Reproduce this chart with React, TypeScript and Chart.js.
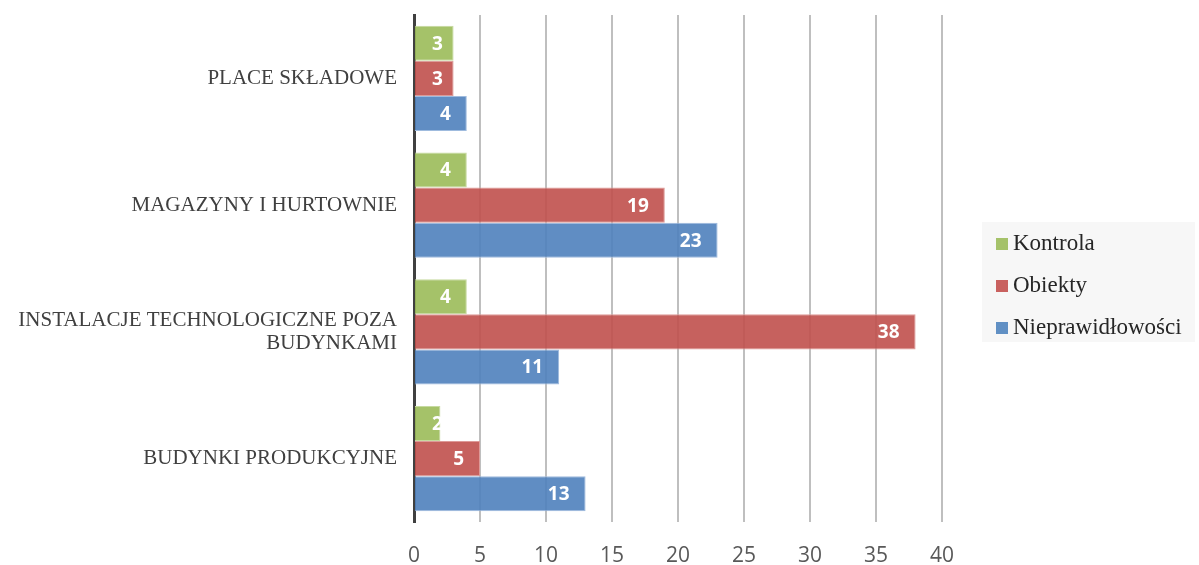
import { useEffect, useRef } from "react";
import { Chart, registerables } from "chart.js";

Chart.register(...registerables);

const categories: (string | string[])[] = [
  "PLACE SKŁADOWE",
  "MAGAZYNY I HURTOWNIE",
  ["INSTALACJE TECHNOLOGICZNE POZA", "BUDYNKAMI"],
  "BUDYNKI PRODUKCYJNE",
];
const seriesNames = ["Kontrola", "Obiekty", "Nieprawidłowości"];
const kontrola = [3, 4, 4, 2];
const obiekty = [3, 19, 38, 5];
const nieprawidlowosci = [4, 23, 11, 13];
const xMin = 0;
const xMax = 40;
const xStep = 5;

const fills = ["rgba(155,187,89,0.9)", "rgba(192,80,77,0.9)", "rgba(79,129,189,0.9)"];
const borders = ["#c6daa0", "#dd9a98", "#9fbbde"];
const legendFills = ["#a5c26a", "#c9615f", "#6190c4"];

const dataLabelPlugin = {
  id: "dataLabels",
  afterDatasetsDraw(chart: any) {
    const ctx = chart.ctx;
    ctx.save();
    ctx.font = "bold 19px 'Open Sans'";
    ctx.fillStyle = "#ffffff";
    ctx.textBaseline = "middle";
    ctx.textAlign = "left";
    chart.data.datasets.forEach((ds: any, i: number) => {
      const meta = chart.getDatasetMeta(i);
      meta.data.forEach((bar: any, j: number) => {
        const txt = String(ds.data[j]);
        const w = ctx.measureText(txt).width;
        let left = bar.x - 16 - w;
        if (left < bar.base + 17) left = bar.base + 17;
        ctx.fillText(txt, left, bar.y + 1);
      });
    });
    ctx.restore();
  },
};

const legendPlugin = {
  id: "boxLegend",
  afterDraw(chart: any) {
    const ctx = chart.ctx;
    ctx.save();
    ctx.fillStyle = "#f7f7f7";
    ctx.fillRect(982, 222, 213, 120);
    ctx.font = "23px 'Liberation Serif'";
    ctx.textBaseline = "middle";
    ctx.textAlign = "left";
    chart.data.datasets.forEach((ds: any, i: number) => {
      const cy = 244 + i * 42;
      ctx.fillStyle = legendFills[i];
      ctx.fillRect(996, cy - 6, 12, 12);
      ctx.fillStyle = "#262626";
      ctx.fillText(ds.label, 1013, cy);
    });
    ctx.restore();
  },
};

export default function App() {
  const ref = useRef<HTMLCanvasElement | null>(null);
  useEffect(() => {
    document.body.style.margin = "0";
    if (!ref.current) return;
    const series = [kontrola, obiekty, nieprawidlowosci];
    const chart = new Chart(ref.current, {
      type: "bar",
      data: {
        labels: categories,
        datasets: series.map((d, i) => ({
          label: seriesNames[i],
          data: d,
          backgroundColor: fills[i],
          borderColor: borders[i],
          borderWidth: 1,
          categoryPercentage: 0.83,
          barPercentage: 1,
        })),
      },
      options: {
        indexAxis: "y",
        animation: false,
        responsive: false,
        devicePixelRatio: 1,
        layout: { padding: { top: 15, right: 257, bottom: 0, left: 0 } },
        plugins: {
          legend: { display: false },
          tooltip: { enabled: false },
        },
        scales: {
          x: {
            min: xMin,
            max: xMax,
            ticks: {
              stepSize: xStep,
              color: "#595959",
              font: { family: "'Open Sans'", size: 21 },
              padding: 21,
            },
            grid: {
              color: (c: any) => (c.tick && c.tick.value === 0 ? "rgba(0,0,0,0)" : "#bfbfbf"),
              lineWidth: 2,
              drawTicks: false,
            },
            border: { display: false },
            afterFit: (s: any) => {
              s.height = 43;
              s.paddingLeft = 0;
              s.paddingRight = 0;
            },
          },
          y: {
            z: 1,
            ticks: {
              color: "#404040",
              font: { family: "'Liberation Serif'", size: 21, lineHeight: 1.1 },
              padding: 17,
            },
            grid: { display: false, drawTicks: false },
            border: { display: true, color: "#404040", width: 3 },
            afterFit: (s: any) => {
              s.width = 414;
              s.paddingTop = 0;
              s.paddingBottom = 0;
            },
          },
        },
      },
      plugins: [dataLabelPlugin, legendPlugin],
    });
    return () => chart.destroy();
  }, []);
  return (
    <div style={{ width: 1199, height: 565 }}>
      <canvas ref={ref} width={1199} height={565} style={{ width: 1199, height: 565, display: "block" }} />
    </div>
  );
}
